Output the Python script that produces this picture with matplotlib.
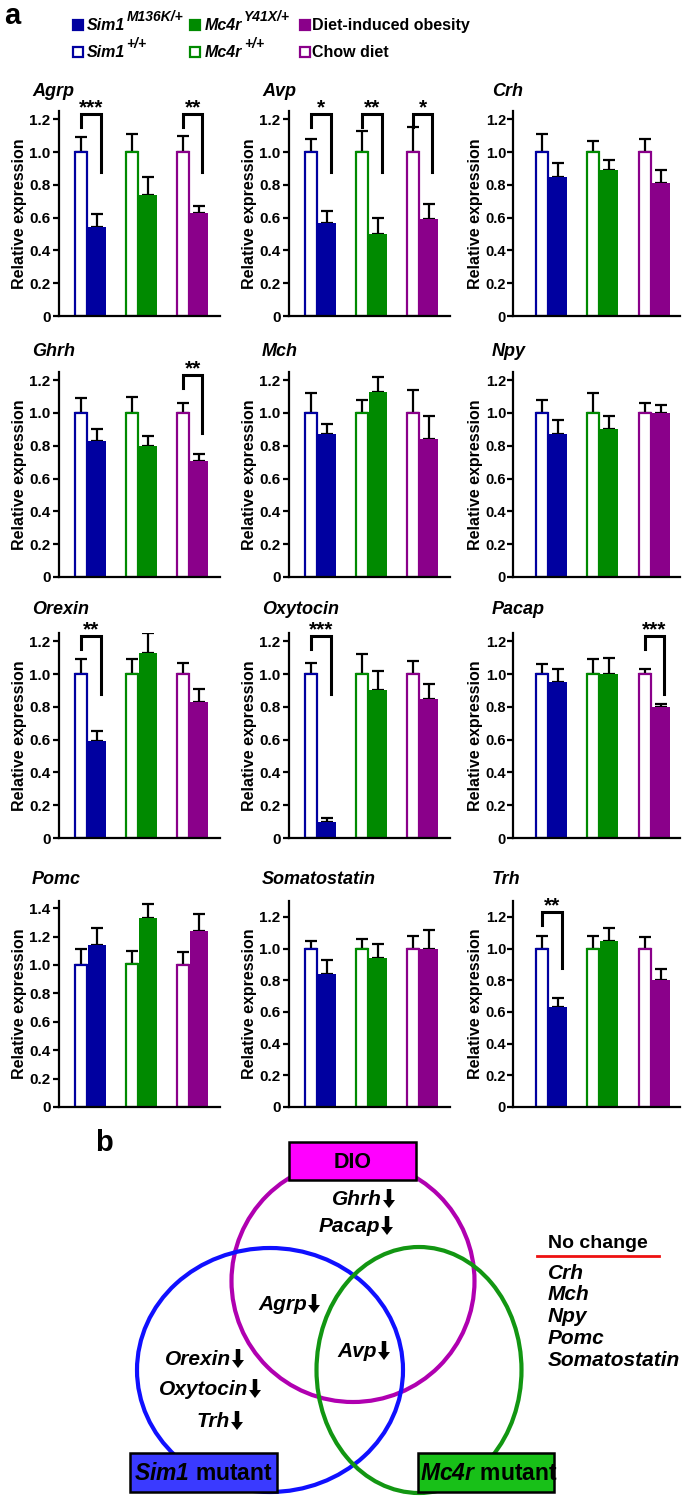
import matplotlib
matplotlib.use("Agg")
import matplotlib.pyplot as plt
from matplotlib.patches import Ellipse, Rectangle, FancyArrow

plt.rcParams['font.family'] = ['Liberation Sans', 'DejaVu Sans']
plt.rcParams['mathtext.fontset'] = 'custom'
plt.rcParams['mathtext.rm'] = 'Liberation Sans:italic:bold'
plt.rcParams['mathtext.it'] = 'Liberation Sans:italic:bold'
plt.rcParams['mathtext.bf'] = 'Liberation Sans:italic:bold'

# ---------------- data ----------------
genes = ['Agrp', 'Avp', 'Crh', 'Ghrh', 'Mch', 'Npy',
         'Orexin', 'Oxytocin', 'Pacap', 'Pomc', 'Somatostatin', 'Trh']

sim1_wt      = [1.00, 1.00, 1.00, 1.00, 1.00, 1.00, 1.00, 1.00, 1.00, 1.00, 1.00, 1.00]
sim1_wt_err  = [0.09, 0.08, 0.11, 0.09, 0.12, 0.08, 0.09, 0.07, 0.06, 0.11, 0.05, 0.08]
sim1_mut     = [0.54, 0.57, 0.85, 0.83, 0.87, 0.87, 0.59, 0.10, 0.95, 1.14, 0.84, 0.63]
sim1_mut_err = [0.08, 0.07, 0.08, 0.07, 0.06, 0.09, 0.06, 0.02, 0.08, 0.12, 0.09, 0.06]

mc4r_wt      = [1.00, 1.00, 1.00, 1.00, 1.00, 1.00, 1.00, 1.00, 1.00, 1.01, 1.00, 1.00]
mc4r_wt_err  = [0.11, 0.13, 0.07, 0.10, 0.08, 0.12, 0.09, 0.12, 0.09, 0.09, 0.06, 0.08]
mc4r_mut     = [0.74, 0.50, 0.89, 0.80, 1.13, 0.90, 1.13, 0.90, 1.00, 1.33, 0.94, 1.05]
mc4r_mut_err = [0.11, 0.10, 0.06, 0.06, 0.09, 0.08, 0.12, 0.12, 0.10, 0.10, 0.09, 0.08]

chow         = [1.00, 1.00, 1.00, 1.00, 1.00, 1.00, 1.00, 1.00, 1.00, 1.00, 1.00, 1.00]
chow_err     = [0.10, 0.15, 0.08, 0.06, 0.14, 0.06, 0.07, 0.08, 0.03, 0.09, 0.08, 0.07]
dio          = [0.63, 0.59, 0.81, 0.71, 0.84, 1.00, 0.83, 0.85, 0.80, 1.24, 1.00, 0.80]
dio_err      = [0.04, 0.09, 0.08, 0.04, 0.14, 0.05, 0.08, 0.09, 0.02, 0.12, 0.12, 0.07]

# significance: (gene, group index, label)
sig_gene  = ['Agrp', 'Agrp', 'Avp', 'Avp', 'Avp', 'Ghrh', 'Orexin', 'Oxytocin', 'Pacap', 'Trh']
sig_group = [0, 2, 0, 1, 2, 2, 0, 0, 2, 0]
sig_label = ['***', '**', '*', '**', '*', '**', '**', '***', '***', '**']

yticks_std = [0, 0.2, 0.4, 0.6, 0.8, 1.0, 1.2]
yticks_pomc = [0, 0.2, 0.4, 0.6, 0.8, 1.0, 1.2, 1.4]
ytick_labels_std = ['0', '0.2', '0.4', '0.6', '0.8', '1.0', '1.2']
ytick_labels_pomc = ['0', '0.2', '0.4', '0.6', '0.8', '1.0', '1.2', '1.4']

colors = ['#0000a0', '#008a00', '#8a008a']

# venn texts
venn_dio = ['Ghrh', 'Pacap']
venn_both = ['Agrp']
venn_all = ['Avp']
venn_sim1 = ['Orexin', 'Oxytocin', 'Trh']
no_change = ['Crh', 'Mch', 'Npy', 'Pomc', 'Somatostatin']

# ---------------- figure ----------------
W, H = 685, 1497
fig = plt.figure(figsize=(W / 100, H / 100), dpi=100)


def fx(px):
    return px / W


def fy(py):
    return 1 - py / H


col_left = [59, 289, 513]
col_right = [220, 450, 680]
col_xlim = [(-0.57, 2.59), (-0.57, 2.59), (-0.70, 2.55)]
col_title_x = [32, 262, 492]
col_ylab = [-0.20, -0.20, -0.18]
col_tick_fs = [11, 11, 10.5]
col_tick_pad = [2, 2, 1]
row_bottom = [316, 577, 838, 1107]
row_top = [111, 372, 633, 901]
row_title_y = [91, 351, 610, 879]

open_off, open_w = -0.137, 0.235
fill_off, fill_w = 0.176, 0.353

wt_series = [sim1_wt, mc4r_wt, chow]
wt_errs = [sim1_wt_err, mc4r_wt_err, chow_err]
mut_series = [sim1_mut, mc4r_mut, dio]
mut_errs = [sim1_mut_err, mc4r_mut_err, dio_err]

for gi, gene in enumerate(genes):
    r, c = divmod(gi, 3)
    ax = fig.add_axes([fx(col_left[c]), fy(row_bottom[r]),
                       fx(col_right[c] - col_left[c]),
                       (row_bottom[r] - row_top[r]) / H])
    xs = [0, 1, 2]
    wv = [wt_series[k][gi] for k in range(3)]
    we = [wt_errs[k][gi] for k in range(3)]
    mv = [mut_series[k][gi] for k in range(3)]
    me = [mut_errs[k][gi] for k in range(3)]
    xo = [x + open_off for x in xs]
    xf = [x + fill_off for x in xs]
    ax.errorbar(xo, wv, yerr=[[0] * 3, we], fmt='none', ecolor='black',
                elinewidth=1.6, capsize=4, capthick=1.6, zorder=1)
    ax.errorbar(xf, mv, yerr=[[0] * 3, me], fmt='none', ecolor='black',
                elinewidth=1.6, capsize=4, capthick=1.6, zorder=1)
    ax.bar(xo, wv, width=open_w, facecolor='white', edgecolor=colors,
           linewidth=1.6, zorder=2)
    ax.bar(xf, mv, width=fill_w, color=colors, linewidth=0, zorder=2)

    if gene == 'Pomc':
        ax.set_ylim(0, 1.45)
        ax.set_yticks(yticks_pomc)
        ax.set_yticklabels(ytick_labels_pomc)
    else:
        ax.set_ylim(0, 1.30 if r == 3 else 1.25)
        ax.set_yticks(yticks_std)
        ax.set_yticklabels(ytick_labels_std)
    ax.set_xlim(*col_xlim[c])
    ax.set_xticks([])
    for s in ['top', 'right']:
        ax.spines[s].set_visible(False)
    for s in ['left', 'bottom']:
        ax.spines[s].set_linewidth(1.6)
    ax.tick_params(axis='y', length=4, width=1.6, labelsize=col_tick_fs[c],
                   pad=col_tick_pad[c])
    for lab in ax.get_yticklabels():
        lab.set_fontweight('bold')
    ax.set_ylabel('Relative expression', fontsize=11.5, fontweight='bold')
    ax.yaxis.set_label_coords(col_ylab[c], 0.5)

    fig.text(fx(col_title_x[c]), fy(row_title_y[r]), gene, fontsize=13,
             fontweight='bold', fontstyle='italic', va='center', ha='left')

    for sg, grp, lab in zip(sig_gene, sig_group, sig_label):
        if sg != gene:
            continue
        x1 = grp + open_off
        x2 = grp + fill_off + 0.07
        ax.plot([x1, x1, x2, x2], [1.15, 1.23, 1.23, 0.88], color='black',
                lw=2.2, clip_on=False, solid_joinstyle='miter', zorder=3)
        ax.text((x1 + x2) / 2, 1.235, lab, ha='center', va='baseline',
                fontsize=15, fontweight='bold', clip_on=False)

# ---------------- legend ----------------
lax = fig.add_axes([0, fy(70), 1, 70 / H])
lax.set_xlim(0, W)
lax.set_ylim(70, 0)
lax.axis('off')
leg_main = [['Sim1', 'Mc4r', 'Diet-induced obesity'],
            ['Sim1', 'Mc4r', 'Chow diet']]
leg_sup = [['M136K/+', 'Y41X/+', ''], ['+/+', '+/+', '']]
leg_italic = [True, True, False]
leg_sq_x = [73, 190, 300]
leg_txt_x = [87, 205, 312]
leg_base = [30, 57]
for ri in range(2):
    for ci in range(3):
        filled = ri == 0
        lax.add_patch(Rectangle((leg_sq_x[ci], leg_base[ri] - 10), 10, 10,
                                facecolor=colors[ci] if filled else 'white',
                                edgecolor=colors[ci], linewidth=1.6))
        t = lax.text(leg_txt_x[ci], leg_base[ri], leg_main[ri][ci],
                     fontsize=11.5, fontweight='bold',
                     fontstyle='italic' if leg_italic[ci] else 'normal',
                     va='baseline', ha='left')
        if leg_sup[ri][ci]:
            lax.annotate(leg_sup[ri][ci], xy=(1, 1), xycoords=t,
                         xytext=(1, 1), textcoords='offset points',
                         fontsize=10, fontweight='bold', fontstyle='italic',
                         ha='left', va='center')

fig.text(fx(4), fy(16), 'a', fontsize=21, fontweight='bold', va='center')

# ---------------- panel b ----------------
bax = fig.add_axes([0, 0, 1, (H - 1120) / H])
bax.set_xlim(0, W)
bax.set_ylim(H, 1120)
bax.axis('off')
fig.text(fx(95), fy(1143), 'b', fontsize=21, fontweight='bold', va='center')

bax.add_patch(Ellipse((353, 1281), 243, 242, fill=False, edgecolor='#b000b0', lw=3))
bax.add_patch(Ellipse((270, 1370), 266, 244, fill=False, edgecolor='#1010ff', lw=3))
bax.add_patch(Ellipse((419, 1370), 205, 246, fill=False, edgecolor='#129612', lw=3))

bax.add_patch(Rectangle((289, 1142), 127, 38, facecolor='#ff00ff', edgecolor='black', lw=1.8, zorder=3))
bax.text(352.5, 1162, 'DIO', ha='center', va='center', fontsize=15.5, fontweight='bold', zorder=4)
bax.add_patch(Rectangle((130, 1453), 147, 39, facecolor='#3a3aff', edgecolor='black', lw=1.8, zorder=3))
bax.text(203.5, 1473, r'$Sim1$ mutant', ha='center', va='center', fontsize=16.5, fontweight='bold', zorder=4)
bax.add_patch(Rectangle((418, 1453), 136, 39, facecolor='#18c018', edgecolor='black', lw=1.8, zorder=3))
bax.text(420, 1473, r'$Mc4r$ mutant', ha='left', va='center', fontsize=16.5, fontweight='bold', zorder=4,
         clip_on=True)


def gene_arrow(name, x_arrow, y):
    bax.text(x_arrow - 7, y, name, ha='right', va='center', fontsize=15,
             fontweight='bold', fontstyle='italic')
    bax.add_patch(FancyArrow(x_arrow, y - 10, 0, 19, width=4.5, head_width=12,
                             head_length=8, length_includes_head=True,
                             color='black', lw=0))


for name, xa, y in zip(venn_dio, [389, 387], [1199, 1226]):
    gene_arrow(name, xa, y)
for name, xa, y in zip(venn_both, [314], [1304]):
    gene_arrow(name, xa, y)
for name, xa, y in zip(venn_all, [384], [1351]):
    gene_arrow(name, xa, y)
for name, xa, y in zip(venn_sim1, [238, 255, 237], [1359, 1389, 1421]):
    gene_arrow(name, xa, y)

bax.text(548, 1243, 'No change', ha='left', va='center', fontsize=14, fontweight='bold')
bax.plot([537, 659], [1256, 1256], color='#ee1111', lw=2)
for i, g in enumerate(no_change):
    bax.text(548, 1273 + 21.8 * i, g, ha='left', va='center', fontsize=15,
             fontweight='bold', fontstyle='italic')

fig.savefig('out.png', dpi=100)
